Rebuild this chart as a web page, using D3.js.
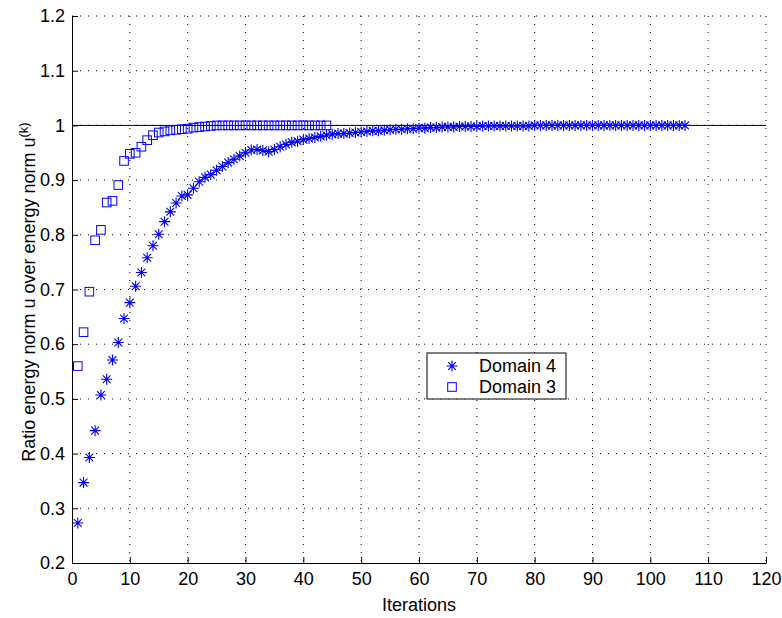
<!DOCTYPE html>
<html lang="en">
<head>
    <meta charset="UTF-8">
    <title>Energy norm ratio</title>
    <script src="https://d3js.org/d3.v7.min.js"></script>
    <style>
        body { margin: 0; background: #fff; }
        svg text { font-family: "Liberation Sans", Arial, sans-serif; fill: #000; }
    </style>
</head>
<body>
    <div id="chart"></div>
    <script>
        // values
        const domain4 = [
            0.273, 0.347, 0.393, 0.442, 0.507, 0.536, 0.571, 0.603, 0.647, 0.676,
            0.706, 0.731, 0.758, 0.780, 0.801, 0.824, 0.842, 0.858, 0.871, 0.873,
            0.885, 0.897, 0.905, 0.910, 0.918, 0.925, 0.932, 0.938, 0.944, 0.950,
            0.955, 0.956, 0.954, 0.952, 0.956, 0.961, 0.965, 0.969, 0.971, 0.974,
            0.976, 0.978, 0.980, 0.982, 0.984, 0.985, 0.985, 0.986, 0.987, 0.988,
            0.989, 0.990, 0.990, 0.991, 0.992, 0.993, 0.993, 0.994, 0.994, 0.995,
            0.995, 0.996, 0.996, 0.997, 0.997, 0.997, 0.998, 0.998, 0.998, 0.998,
            0.999, 0.999, 0.999, 0.999, 0.999, 0.999, 0.999, 0.999, 0.999, 1.000,
            1.000, 1.000, 1.000, 1.000, 1.000, 1.000, 1.000, 1.000, 1.000, 1.000,
            1.000, 1.000, 1.000, 1.000, 1.000, 1.000, 1.000, 1.000, 1.000, 1.000,
            1.000, 1.000, 1.000, 1.000, 1.000, 1.000
        ];
        const domain3 = [
            0.560, 0.622, 0.696, 0.790, 0.809, 0.859, 0.862, 0.891, 0.935, 0.948,
            0.950, 0.961, 0.973, 0.982, 0.987, 0.989, 0.991, 0.992, 0.993, 0.994,
            0.996, 0.997, 0.998, 0.999, 1.000, 1.000, 1.000, 1.000, 1.000, 1.000,
            1.000, 1.000, 1.000, 1.000, 1.000, 1.000, 1.000, 1.000, 1.000, 1.000,
            1.000, 1.000, 1.000, 1.000
        ];
        const xTicks = [0, 10, 20, 30, 40, 50, 60, 70, 80, 90, 100, 110, 120];
        const yTicks = [0.2, 0.3, 0.4, 0.5, 0.6, 0.7, 0.8, 0.9, 1.0, 1.1, 1.2];
        const refLevel = 1;

        const W = 782, H = 618;
        const margin = { top: 16, right: 16, bottom: 55, left: 72 };
        const width = W - margin.left - margin.right;
        const height = H - margin.top - margin.bottom;
        const fs = 18;

        const svg = d3.select("#chart").append("svg")
            .attr("width", W)
            .attr("height", H);

        const g = svg.append("g")
            .attr("transform", `translate(${margin.left},${margin.top})`);

        const x = d3.scaleLinear().domain([0, 120]).range([0, width]);
        const y = d3.scaleLinear().domain([0.2, 1.2]).range([height, 0]);

        // dotted grid
        g.append("g").selectAll("line")
            .data(xTicks.slice(1))
            .join("line")
            .attr("x1", d => x(d)).attr("x2", d => x(d))
            .attr("y1", 0).attr("y2", height)
            .attr("stroke", "#000").attr("stroke-width", 1)
            .attr("stroke-dasharray", "1,7");
        g.append("g").selectAll("line")
            .data(yTicks.slice(1))
            .join("line")
            .attr("x1", 0).attr("x2", width)
            .attr("y1", d => y(d)).attr("y2", d => y(d))
            .attr("stroke", "#000").attr("stroke-width", 1)
            .attr("stroke-dasharray", "1,7");

        // reference line at 1
        g.append("line")
            .attr("x1", x(0)).attr("x2", x(120))
            .attr("y1", y(refLevel)).attr("y2", y(refLevel))
            .attr("stroke", "#000").attr("stroke-width", 1);

        const blue = "#0000ff";
        const star = "M-5.5,0H5.5M0,-5.5V5.5M-3.9,-3.9L3.9,3.9M-3.9,3.9L3.9,-3.9";

        g.append("g").selectAll("path")
            .data(domain4)
            .join("path")
            .attr("transform", (d, i) => `translate(${x(i + 1)},${y(d)})`)
            .attr("d", star)
            .attr("fill", "none")
            .attr("stroke", blue)
            .attr("stroke-width", 1.1);

        const sq = 8.6;
        g.append("g").selectAll("rect")
            .data(domain3)
            .join("rect")
            .attr("x", (d, i) => x(i + 1) - sq / 2)
            .attr("y", d => y(d) - sq / 2)
            .attr("width", sq).attr("height", sq)
            .attr("fill", "none")
            .attr("stroke", blue)
            .attr("stroke-width", 1);

        // axes
        const xAxis = g.append("g")
            .attr("transform", `translate(0,${height})`)
            .call(d3.axisBottom(x).tickValues(xTicks).tickSizeInner(-6).tickSizeOuter(0).tickPadding(9));
        const yAxis = g.append("g")
            .call(d3.axisLeft(y).tickValues(yTicks).tickFormat(d3.format("~g")).tickSizeInner(-6).tickSizeOuter(0).tickPadding(7));
        [xAxis, yAxis].forEach(a => {
            a.selectAll("text").attr("font-size", fs).attr("font-family", "Liberation Sans, Arial, sans-serif");
            a.select(".domain").attr("stroke", "#000");
            a.selectAll(".tick line").attr("stroke", "#000");
        });

        // axis titles
        svg.append("text")
            .attr("x", margin.left + width / 2)
            .attr("y", 611)
            .attr("text-anchor", "middle")
            .attr("font-size", fs)
            .text("Iterations");

        const yl = svg.append("text")
            .attr("transform", "translate(35,292) rotate(-90)")
            .attr("text-anchor", "middle")
            .attr("font-size", fs);
        yl.append("tspan").text("Ratio energy norm u over energy norm u");
        yl.append("tspan").attr("dy", -7).attr("font-size", 13).text("(k)");

        // legend
        const leg = svg.append("g").attr("transform", "translate(427,353)");
        leg.append("rect")
            .attr("width", 139).attr("height", 46)
            .attr("fill", "#fff").attr("stroke", "#000").attr("stroke-width", 1);
        leg.append("path")
            .attr("transform", "translate(25,13)")
            .attr("d", star).attr("fill", "none").attr("stroke", blue).attr("stroke-width", 1.1);
        leg.append("rect")
            .attr("x", 25 - sq / 2).attr("y", 34 - sq / 2)
            .attr("width", sq).attr("height", sq)
            .attr("fill", "none").attr("stroke", blue);
        leg.append("text").attr("x", 52).attr("y", 19).attr("font-size", fs).text("Domain 4");
        leg.append("text").attr("x", 52).attr("y", 40).attr("font-size", fs).text("Domain 3");
    </script>
</body>
</html>
